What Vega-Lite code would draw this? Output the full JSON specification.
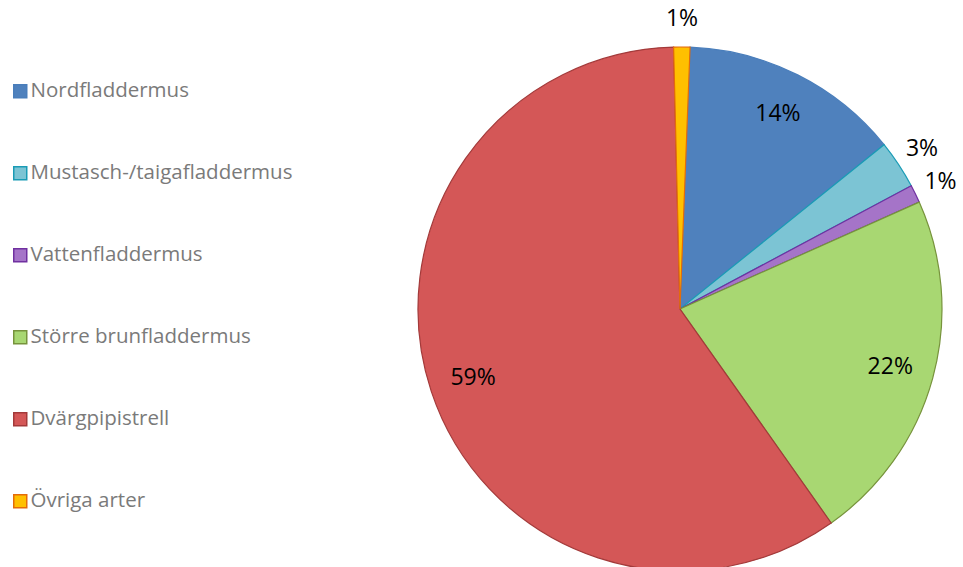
{
  "$schema": "https://vega.github.io/schema/vega-lite/v6.json",
  "autosize": "none",
  "width": 524,
  "height": 524,
  "padding": {"left": 418, "top": 47, "right": 21, "bottom": 0},
  "background": "white",
  "config": {"view": {"stroke": null}},
  "data": {
    "values": [
      {"art": "Nordfladdermus", "andel": 13.6, "ordning": 1, "etikett": "14%", "plats": "inne"},
      {"art": "Mustasch-/taigafladdermus", "andel": 3.0, "ordning": 2, "etikett": "3%", "plats": "ute"},
      {"art": "Vattenfladdermus", "andel": 1.1, "ordning": 3, "etikett": "1%", "plats": "ute"},
      {"art": "Större brunfladdermus", "andel": 21.9, "ordning": 4, "etikett": "22%", "plats": "inne"},
      {"art": "Dvärgpipistrell", "andel": 59.4, "ordning": 5, "etikett": "59%", "plats": "inne"},
      {"art": "Övriga arter", "andel": 1.0, "ordning": 6, "etikett": "1%", "plats": "ute"}
    ]
  },
  "encoding": {
    "theta": {"field": "andel", "type": "quantitative", "stack": true, "scale": {"range": [0.0384, 6.3216]}},
    "order": {"field": "ordning", "type": "quantitative"}
  },
  "layer": [
    {
      "mark": {"type": "arc", "outerRadius": 262, "strokeWidth": 1.2},
      "encoding": {
        "color": {
          "field": "art", "type": "nominal",
          "sort": ["Nordfladdermus", "Mustasch-/taigafladdermus", "Vattenfladdermus", "Större brunfladdermus", "Dvärgpipistrell", "Övriga arter"],
          "scale": {
            "domain": ["Nordfladdermus", "Mustasch-/taigafladdermus", "Vattenfladdermus", "Större brunfladdermus", "Dvärgpipistrell", "Övriga arter"],
            "range": ["#4f81bd", "#7cc4d4", "#a574c8", "#a8d772", "#d45757", "#ffc000"]
          },
          "legend": {
            "title": null,
            "orient": "none",
            "legendX": -408,
            "legendY": 34,
            "symbolType": "square",
            "symbolSize": 169,
            "symbolStrokeWidth": 1.5,
            "labelFont": "Open Sans",
            "labelFontSize": 20.5,
            "labelColor": "#7a7a7a",
            "labelOffset": 0,
            "rowPadding": 61,
            "labelLimit": 400
          }
        },
        "stroke": {
          "field": "art", "type": "nominal",
          "scale": {
            "domain": ["Nordfladdermus", "Mustasch-/taigafladdermus", "Vattenfladdermus", "Större brunfladdermus", "Dvärgpipistrell", "Övriga arter"],
            "range": ["#4a7ebb", "#1a9bb5", "#7030a0", "#77933c", "#a33a3a", "#e46c0a"]
          },
          "legend": null
        }
      }
    },
    {
      "mark": {"type": "text", "radius": 218, "font": "Open Sans", "fontSize": 23, "color": "black"},
      "encoding": {"text": {"condition": {"test": "datum.plats == 'inne'", "field": "etikett"}, "value": ""}}
    },
    {
      "mark": {"type": "text", "radius": 290, "font": "Open Sans", "fontSize": 23, "color": "black"},
      "encoding": {"text": {"condition": {"test": "datum.plats == 'ute'", "field": "etikett"}, "value": ""}}
    }
  ]
}
